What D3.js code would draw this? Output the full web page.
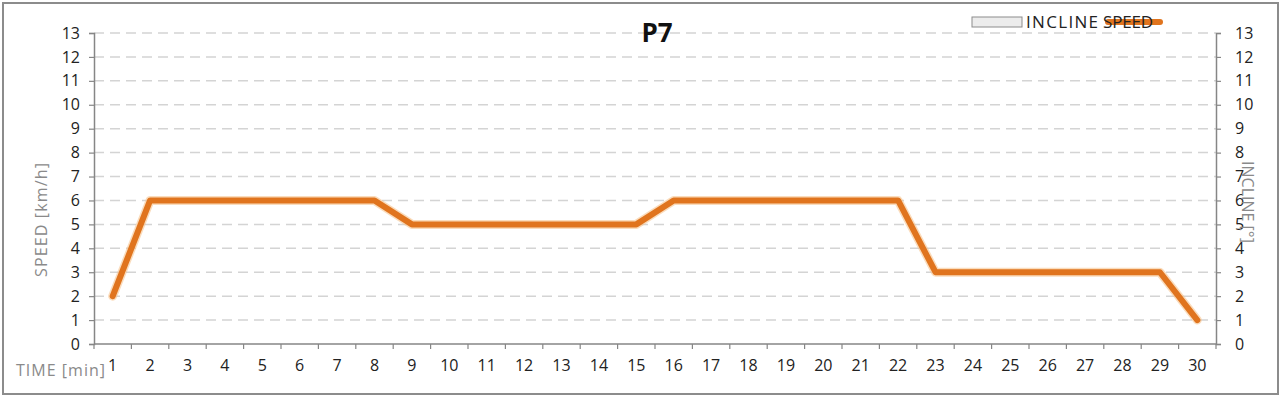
<!DOCTYPE html>
<html><head><meta charset="utf-8">
<script src="https://cdn.jsdelivr.net/npm/d3@7"></script>
<style>
html,body{margin:0;padding:0;background:#fff;}
text{font-family:"Open Sans",sans-serif;}
</style></head>
<body><svg id="c" width="1282" height="398"></svg>
<script>
const categories = d3.range(1, 31).map(String);
const speed = [2,6,6,6,6,6,6,6,5,5,5,5,5,5,5,6,6,6,6,6,6,6,3,3,3,3,3,3,3,1];
const incline = [];
const yTicks = d3.range(0, 14);
const title = "P7";

const svg = d3.select("#c");
const L = 94, R = 1216, T = 33, B = 344;

svg.append("rect").attr("x",3).attr("y",3).attr("width",1275).attr("height",391)
  .attr("fill","#fff").attr("stroke","#8c8c8c").attr("stroke-width",2);

const x = d3.scaleBand().domain(categories).range([L, R]);
const y = d3.scaleLinear().domain([0, 13]).range([B, T]);
const y2 = d3.scaleLinear().domain([0, 13]).range([B, T]);

svg.append("g").selectAll("line").data(yTicks.filter(d=>d>0)).join("line")
  .attr("x1", L).attr("x2", R).attr("y1", d=>y(d)).attr("y2", d=>y(d))
  .attr("stroke","#d4d4d4").attr("stroke-width",1.5).attr("stroke-dasharray","10,6");

const gl = svg.append("g").attr("transform",`translate(${L},0)`)
  .call(d3.axisLeft(y).tickValues(yTicks).tickSize(5).tickPadding(9).tickFormat(d3.format("d")));
const gr = svg.append("g").attr("transform",`translate(${R},0)`)
  .call(d3.axisRight(y2).tickValues(yTicks).tickSize(5).tickPadding(14).tickFormat(d3.format("d")));
const gb = svg.append("g").attr("transform",`translate(0,${B})`)
  .call(d3.axisBottom(x).tickSize(0).tickPadding(16));
svg.append("g").selectAll("line").data(d3.range(0, categories.length+1)).join("line")
  .attr("x1", i=>L + i*x.step()).attr("x2", i=>L + i*x.step())
  .attr("y1", B).attr("y2", B+5).attr("stroke","#868686").attr("stroke-width",1.2);

[gl, gr, gb].forEach(g=>{
  g.attr("font-size",16).attr("font-family","'Open Sans',sans-serif");
  g.select(".domain").attr("stroke","#868686").attr("stroke-width",1.5);
  g.selectAll(".tick line").attr("stroke","#868686").attr("stroke-width",1.2);
  g.selectAll("text").attr("fill","#222");
});
gb.select(".domain").attr("d", `M${L},0H${R}`);

const line = d3.line().x((d,i)=>x(categories[i]) + x.bandwidth()/2).y(d=>y(d));
svg.append("path").datum(speed).attr("d", line).attr("fill","none")
  .attr("stroke","#f6c48f").attr("stroke-width",9).attr("stroke-linejoin","round").attr("stroke-linecap","round").attr("opacity",0.6);
svg.append("path").datum(speed).attr("d", line).attr("fill","none")
  .attr("stroke","#e0741e").attr("stroke-width",6).attr("stroke-linejoin","round").attr("stroke-linecap","round");

svg.append("text").attr("x",657).attr("y",42).attr("text-anchor","middle")
  .attr("font-size",26).attr("font-weight","bold").attr("fill","#111").text(title);

svg.append("text").attr("transform","translate(47,220) rotate(-90)").attr("text-anchor","middle")
  .attr("font-size",16).attr("fill","#8a8a8a").attr("textLength",114).text("SPEED [km/h]");
svg.append("text").attr("transform","translate(1242,202) rotate(90)").attr("text-anchor","middle")
  .attr("font-size",16).attr("fill","#8a8a8a").text("INCLINE [°]");
svg.append("text").attr("x",16).attr("y",376)
  .attr("font-size",16).attr("fill","#8a8a8a").attr("textLength",89).text("TIME [min]");

svg.append("rect").attr("x",972).attr("y",17).attr("width",50).attr("height",10)
  .attr("fill","#ececec").attr("stroke","#8c8c8c").attr("stroke-width",1);
svg.append("text").attr("x",1026).attr("y",28).attr("font-size",17).attr("fill","#222")
  .attr("textLength",72).text("INCLINE");
svg.append("line").attr("x1",1108).attr("x2",1160).attr("y1",22).attr("y2",22)
  .attr("stroke","#e0741e").attr("stroke-width",6).attr("stroke-linecap","round");
svg.append("text").attr("x",1103).attr("y",28).attr("font-size",17).attr("fill","#222")
  .attr("textLength",50).text("SPEED");
</script></body></html>
